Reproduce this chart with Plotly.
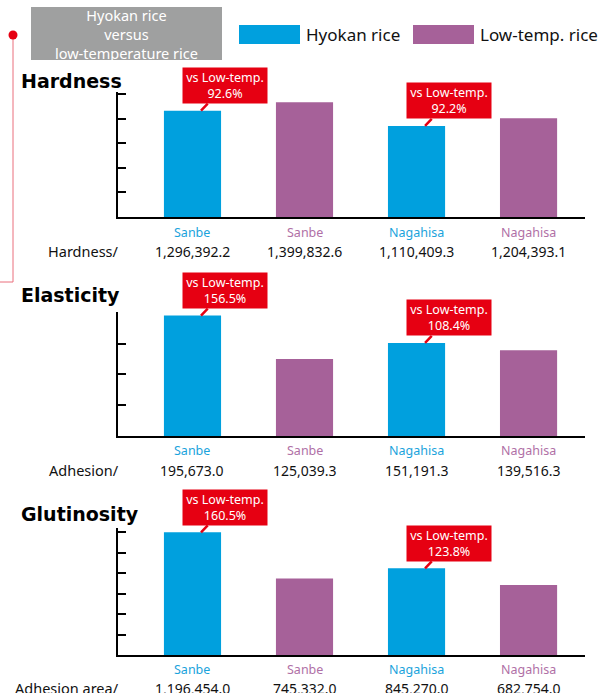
import plotly.graph_objects as go

# ---------------- data ----------------
varieties = ["Sanbe", "Nagahisa"]
metrics = ["Hardness", "Elasticity", "Glutinosity"]
unit_labels = ["Hardness/", "Adhesion/", "Adhesion area/"]

hardness_hyokan = [1296392.2, 1110409.3]
hardness_lowtemp = [1399832.6, 1204393.1]
elasticity_hyokan = [195673.0, 151191.3]
elasticity_lowtemp = [125039.3, 139516.3]
glutinosity_hyokan = [1196454.0, 845270.0]
glutinosity_lowtemp = [745332.0, 682754.0]

ratio_hardness = ["92.6%", "92.2%"]
ratio_elasticity = ["156.5%", "108.4%"]
ratio_glutinosity = ["160.5%", "123.8%"]

series_names = ["Hyokan rice", "Low-temp. rice"]
box_title_lines = ["Hyokan rice", "versus", "low-temperature rice"]

# ---------------- styling ----------------
W, H = 603, 693
BLUE = "#00a0de"
PURPLE = "#a66199"
BLUE_TXT = "#1aa3dc"
PURPLE_TXT = "#b070a6"
RED = "#e60012"
GRAY = "#9fa0a0"
FONT = "Noto Sans"


def px(x):
    return x / W


def py(y):
    return 1 - y / H


panels = [
    dict(hy=hardness_hyokan, lo=hardness_lowtemp, ratio=ratio_hardness,
         top=92, bottom=217, ymax=1525000, dtick=300000,
         title_y=81, cat_y=232, val_y=251),
    dict(hy=elasticity_hyokan, lo=elasticity_lowtemp, ratio=ratio_elasticity,
         top=312, bottom=436, ymax=201500, dtick=50000,
         title_y=295, cat_y=450, val_y=470),
    dict(hy=glutinosity_hyokan, lo=glutinosity_lowtemp, ratio=ratio_glutinosity,
         top=528, bottom=655, ymax=1239000, dtick=200000,
         title_y=514, cat_y=669, val_y=688),
]

fig = go.Figure()
annotations = []
shapes = []
layout_axes = {}

x_left, x_right = 118, 585

for k, p in enumerate(panels):
    sfx = "" if k == 0 else str(k + 1)
    xa, ya = "x" + sfx, "y" + sfx
    hy_x = [2 * i for i in range(len(varieties))]
    lo_x = [2 * i + 1 for i in range(len(varieties))]
    fig.add_trace(go.Bar(x=hy_x, y=p["hy"], width=0.51, marker=dict(color=BLUE, line=dict(width=0)),
                         name=series_names[0], showlegend=False, xaxis=xa, yaxis=ya, hoverinfo="skip"))
    fig.add_trace(go.Bar(x=lo_x, y=p["lo"], width=0.51, marker=dict(color=PURPLE, line=dict(width=0)),
                         name=series_names[1], showlegend=False, xaxis=xa, yaxis=ya, hoverinfo="skip"))

    layout_axes["xaxis" + sfx] = dict(
        domain=[px(x_left), px(x_right)], range=[-0.665, 3.504], anchor=ya,
        showline=True, linecolor="black", linewidth=2, ticks="", showticklabels=False,
        showgrid=False, zeroline=False, fixedrange=True)
    layout_axes["yaxis" + sfx] = dict(
        domain=[py(p["bottom"]), py(p["top"])], range=[0, p["ymax"]], anchor=xa,
        showline=True, linecolor="black", linewidth=2, ticks="inside", ticklen=8,
        tickwidth=1.5, tickcolor="black", tick0=0, dtick=p["dtick"], showticklabels=False,
        showgrid=False, zeroline=False, fixedrange=True)

    # panel title
    annotations.append(dict(text="<b>" + metrics[k] + "</b>", x=px(19), y=py(p["title_y"]),
                            xref="paper", yref="paper", xanchor="left", yanchor="middle",
                            showarrow=False, font=dict(family="DejaVu Sans", size=19, color="black")))
    # unit label
    annotations.append(dict(text=unit_labels[k], x=px(121), y=py(p["val_y"]),
                            xref="paper", yref="paper", xanchor="right", yanchor="middle",
                            showarrow=False, font=dict(family=FONT, size=14.5, color="#111")))

    # category & value labels
    for i, v in enumerate(varieties):
        for xpos, val, col in ((hy_x[i], p["hy"][i], BLUE_TXT), (lo_x[i], p["lo"][i], PURPLE_TXT)):
            annotations.append(dict(text=v, x=xpos, y=py(p["cat_y"]), xref=xa, yref="paper",
                                    xanchor="center", yanchor="middle", showarrow=False,
                                    font=dict(family=FONT, size=12.5, color=col)))
            annotations.append(dict(text=f"{val:,.1f}", x=xpos, y=py(p["val_y"]), xref=xa, yref="paper",
                                    xanchor="center", yanchor="middle", showarrow=False,
                                    font=dict(family=FONT, size=14, color="#111")))
        # red callout
        annotations.append(dict(text="vs Low-temp.<br>" + p["ratio"][i], x=hy_x[i] + 0.076, y=p["hy"][i],
                                xref=xa, yref=ya, showarrow=True, arrowhead=0, arrowwidth=2.5,
                                arrowcolor=RED, ax=24, ay=-25, standoff=0, bgcolor=RED,
                                borderpad=2, width=80, height=31, align="center",
                                font=dict(family=FONT, size=12.5, color="white")))

# gray header box
shapes.append(dict(type="rect", xref="paper", yref="paper", x0=px(31), x1=px(222), y0=py(60), y1=py(7),
                   fillcolor=GRAY, line=dict(width=0), layer="below"))
annotations.append(dict(text="<br>".join(box_title_lines), x=px(126.5), y=py(34), xref="paper", yref="paper",
                        xanchor="center", yanchor="middle", showarrow=False, align="center",
                        font=dict(family=FONT, size=14.5, color="white")))

# legend (drawn manually)
legend_items = [(series_names[0], BLUE, 239, 300, 304), (series_names[1], PURPLE, 413, 474, 478)]
for name, col, x0, x1, tx in legend_items:
    shapes.append(dict(type="rect", xref="paper", yref="paper", x0=px(x0), x1=px(x1), y0=py(44), y1=py(25),
                       fillcolor=col, line=dict(width=0)))
    annotations.append(dict(text=name, x=px(tx), y=py(35), xref="paper", yref="paper",
                            xanchor="left", yanchor="middle", showarrow=False,
                            font=dict(family=FONT, size=17, color="#111")))

# cut-off heading at top
annotations.append(dict(text="old fashioned", x=px(280), y=py(-7), xref="paper", yref="paper",
                        xanchor="center", yanchor="middle", showarrow=False,
                        font=dict(family=FONT, size=16, color="#111")))

# red connector decoration
shapes.append(dict(type="line", xref="paper", yref="paper", x0=px(13), x1=px(13), y0=py(35), y1=py(282),
                   line=dict(color="#ea6f7c", width=1)))
shapes.append(dict(type="line", xref="paper", yref="paper", x0=px(0), x1=px(13), y0=py(282), y1=py(282),
                   line=dict(color="#ea6f7c", width=1)))
shapes.append(dict(type="circle", xref="paper", yref="paper", x0=px(8.5), x1=px(17.5), y0=py(39.5), y1=py(30.5),
                   fillcolor=RED, line=dict(width=0)))

fig.update_layout(
    width=W, height=H, margin=dict(l=0, r=0, t=0, b=0),
    paper_bgcolor="white", plot_bgcolor="white",
    showlegend=False, barmode="overlay",
    annotations=annotations, shapes=shapes,
    **layout_axes,
)

fig.write_html("out.html", config={"displayModeBar": False})
